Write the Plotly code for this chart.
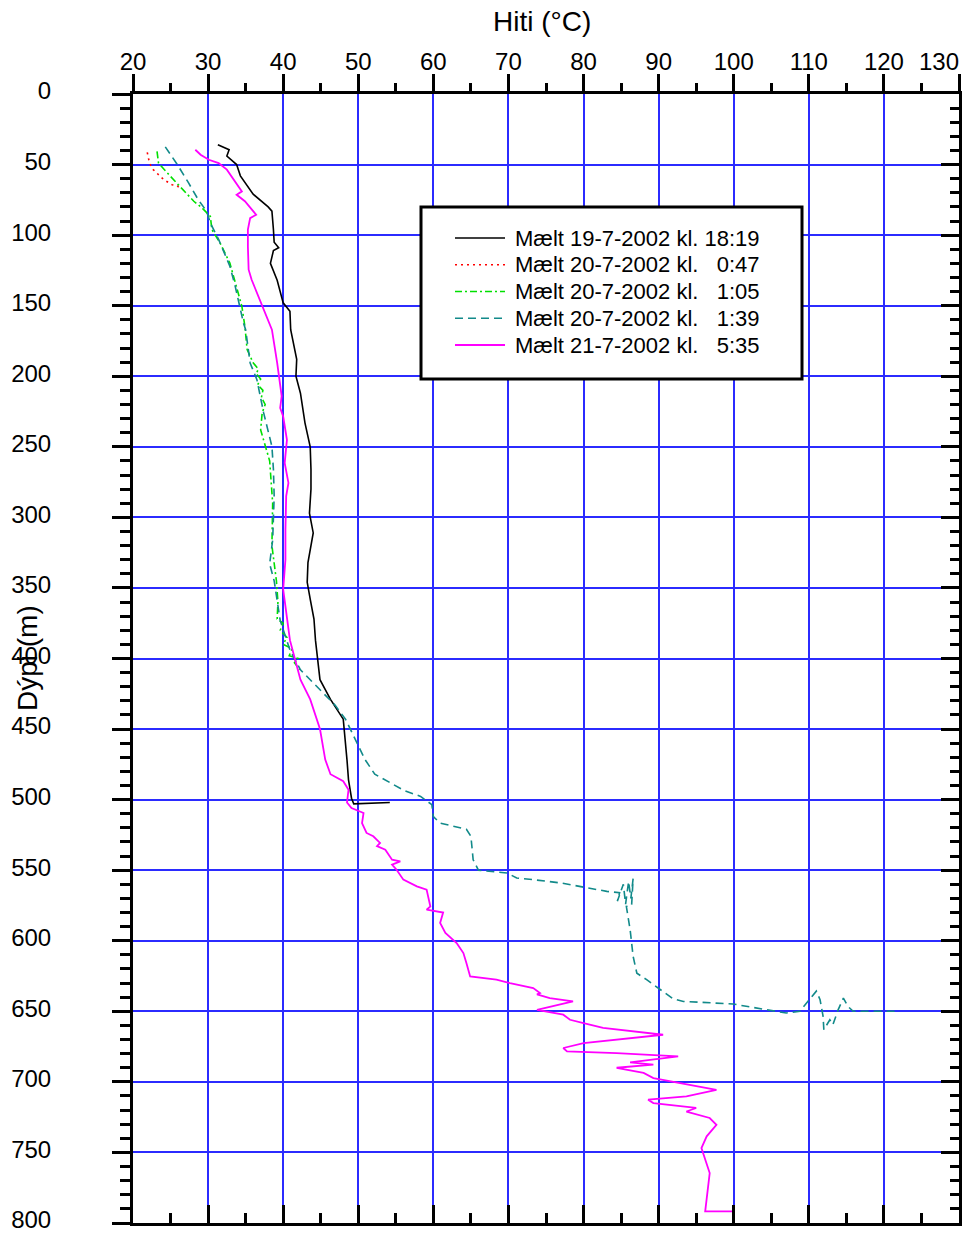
import plotly.graph_objects as go

# ---------------- data ----------------
black_T = [31.3, 32.8, 32.5, 33.8, 34.3, 36.0, 38.0, 38.5, 38.7, 38.8, 39.4, 38.7, 38.3, 39.2, 40.0, 40.9,
           41.0, 41.8, 41.7, 42.3, 42.9, 43.6, 43.7, 43.7, 43.5, 44.0, 43.3, 43.2, 43.6, 44.1, 44.3, 44.9,
           46.3, 48.0, 48.5, 48.7, 49.1, 49.4, 54.2]
black_D = [36, 39.5, 44, 50, 58, 71, 80, 83, 96, 105, 109, 111, 120, 132, 148, 154,
           167, 188, 200, 212, 233, 250, 266, 280, 297, 311, 332, 346, 358, 372, 387, 415,
           429, 443, 472, 486, 499, 503, 502]

red_T = [21.9, 22.2, 22.7, 24.1, 25.2, 25.9, 26.3]
red_D = [41.4, 49, 53.6, 60.7, 64.3, 65, 67.3]

green_T = [23.2, 23.4, 25.0, 26.7, 28.1, 29.2, 30.3, 30.5, 31.6, 32.9, 33.8, 34.5, 34.9, 35.2, 36.0,
           36.7, 36.4, 37.0, 36.6, 37.3, 37.1, 37.6, 37.2, 37.0, 38.2, 38.6, 38.5, 38.9, 39.1, 39.3,
           39.2, 40.0, 39.6, 40.5, 40.0, 41.2, 40.8, 42.0, 41.5, 42.2]
green_D = [40.7, 49, 58.4, 67.8, 76, 80.8, 86.7, 96, 105.6, 119.8, 136.3, 150.5, 164.7, 181, 190.5,
           195, 198, 202, 206, 210, 215, 220, 226, 238, 260, 290, 320, 335, 345, 360,
           372, 375, 380, 385, 390, 393, 398, 400, 403, 408]

teal_T = [24.3, 25.9, 27.4, 28.7, 29.8, 30.3, 31.4, 32.9, 33.6, 34.3, 34.7, 35.0, 35.6, 36.5, 37.4,
          38.5, 38.7, 38.8, 38.7, 38.6, 38.2, 38.8, 39.6, 40.9, 42.3, 44.9, 46.9, 48.3, 49.6, 50.9,
          52.2, 56.1, 58.3, 59.8, 60.0, 60.9, 64.4, 65.0, 65.3, 66.0, 69.8, 71.1, 73.3, 76.9, 80.0,
          83.1, 84.8, 84.5, 85.3, 85.6, 86.0, 86.3, 86.6, 86.4, 85.7, 86.2, 86.6, 87.1, 88.4, 90.2,
          91.9, 93.3, 99.9, 104.4, 107.0, 108.8, 109.7, 111.0, 111.5, 111.9, 112.0, 112.8, 113.2, 113.9,
          114.6, 115.2, 115.9, 122.1]
teal_D = [37.5, 50, 63, 75, 83, 91.4, 103, 122, 136, 153, 162, 167, 190.6, 202.4, 226,
          249.7, 266, 285, 308.8, 316, 333, 345, 373, 394, 408, 422, 433, 443, 457.5, 471.6,
          482, 493.5, 497.7, 503.6, 512, 516.6, 521, 526, 542.6, 550, 552, 555.5, 556.7, 559, 562,
          565, 566, 572, 560, 574, 558, 570, 556, 575, 575.7, 592, 611, 623, 627.6, 634.7,
          641, 643, 644.8, 648.9, 651.2, 650, 644, 635.7, 641.8, 653.6, 663, 656, 659.5, 649,
          640.6, 646.5, 650, 650]

pink_T = [28.3, 29.0, 30.1, 31.4, 32.5, 33.4, 34.3, 34.5, 33.8, 34.9, 36.0, 36.4, 35.6, 35.3, 35.3,
          35.4, 35.8, 36.5, 37.2, 37.8, 38.5, 39.2, 39.8, 39.6, 40.0, 40.5, 40.2, 40.7, 40.4, 40.3,
          40.3, 40.0, 40.9, 42.3, 43.6, 44.9, 45.6, 46.3, 48.0, 48.7, 48.5, 49.1, 50.7, 50.5, 51.1,
          52.0, 52.9, 52.5, 53.6, 54.5, 55.6, 54.5, 55.1, 56.0, 57.8, 59.1, 59.6, 59.1, 61.3, 60.9,
          61.6, 63.1, 64.0, 64.4, 64.9, 68.4, 70.2, 73.3, 74.2, 73.8, 75.5, 78.6, 73.8, 77.3, 78.2,
          80.0, 82.6, 90.6, 80.0, 77.3, 77.8, 84.4, 92.6, 86.2, 89.3, 84.4, 88.0, 89.3, 92.2, 97.7,
          93.7, 88.6, 89.3, 93.3, 95.0, 93.7, 96.8, 97.7, 96.4, 95.7, 96.2, 96.8, 96.2, 99.9]
pink_D = [39.5, 43, 46.6, 49, 53.6, 60.7, 67.8, 69, 71.4, 76, 83, 85.5, 88, 96, 108,
          124.5, 131.6, 141, 150.5, 157.6, 167, 190.6, 214, 222.5, 228.5, 245, 261.5, 275.6, 285, 308.8,
          330, 351, 387, 415, 429, 450, 471.6, 482, 487, 493, 502, 506, 509.5, 516.6, 523.6,
          526, 530.7, 533, 535.5, 542.6, 543.8, 546, 549.7, 556.7, 561.5, 563.8, 575.7, 578, 580, 587.4,
          594.5, 601.6, 608.7, 615.8, 625.3, 627.6, 630, 633.5, 637, 638, 640.6, 643, 649, 652.4, 656,
          658.3, 661.8, 666.6, 672.5, 676, 678.4, 679.6, 682, 686.2, 687.8, 690, 693.7, 697.3, 700, 705.6,
          710.3, 712.6, 715, 717.4, 718.5, 721, 725.6, 730.4, 738.6, 746.9, 755, 764.6, 791.8, 791.8]

series_names = [
    "Mælt 19-7-2002 kl.\u00a018:19",
    "Mælt 20-7-2002 kl.\u00a0\u00a0\u00a00:47",
    "Mælt 20-7-2002 kl.\u00a0\u00a0\u00a01:05",
    "Mælt 20-7-2002 kl.\u00a0\u00a0\u00a01:39",
    "Mælt 21-7-2002 kl.\u00a0\u00a0\u00a05:35",
]
x_ticks = list(range(20, 131, 10))
y_ticks = list(range(0, 801, 50))

# ---------------- figure ----------------
FONT = "Liberation Sans, Arial, sans-serif"
GRID = "#2b2bff"

# plot area in page pixels: x 133..959, y 94..1223 (body margin removed below)
W, H = 975, 1235
L, T, R, B = 133, 94, 16, 12
PW, PH = W - L - R, H - T - B


def px(xp):   # page pixel x -> paper x
    return (xp - L) / PW


def py(yp):   # page pixel y -> paper y
    return 1 - (yp - T) / PH


fig = go.Figure()
styles = [
    (black_T, black_D, "#000000", "solid", 1.6),
    (red_T, red_D, "#ff0000", "2px,4px", 1.6),
    (green_T, green_D, "#00e000", "7px,3px,2px,3px", 1.6),
    (teal_T, teal_D, "#128a8a", "8px,5px", 1.6),
    (pink_T, pink_D, "#ff00ff", "solid", 1.8),
]
n = len(styles)
for i, ((t, d, c, dash, w), name) in enumerate(zip(styles, series_names)):
    last = (i == n - 1)   # last series sits on the overlaid (bottom/right) axis pair
    fig.add_trace(go.Scatter(x=t, y=d, mode="lines", name=name, showlegend=False,
                             xaxis="x2" if last else "x", yaxis="y2" if last else "y",
                             line=dict(color=c, width=w, dash=dash)))

# legend box, drawn as a framed panel with sample lines and labels
shapes = [dict(type="rect", xref="paper", yref="paper", x0=px(421), x1=px(802),
               y0=py(379), y1=py(207), fillcolor="white", line=dict(color="black", width=3),
               layer="above")]
annotations = []
for i, ((t, d, c, dash, w), name) in enumerate(zip(styles, series_names)):
    yy = py(238 + i * 26.75)
    shapes.append(dict(type="line", xref="paper", yref="paper", x0=px(455), x1=px(505),
                       y0=yy, y1=yy, line=dict(color=c, width=w, dash=dash), layer="above"))
    annotations.append(dict(text=name, xref="paper", yref="paper", x=px(513), y=yy,
                            xanchor="left", yanchor="middle", showarrow=False,
                            font=dict(size=22)))

# top tick labels: the last one sits right-aligned on its tick, as in the reference
x_ticktext = [str(v) for v in x_ticks[:-1]] + [""]
annotations.append(dict(text=str(x_ticks[-1]), xref="paper", yref="paper", x=px(961), y=py(61.5),
                        xanchor="right", yanchor="middle", showarrow=False,
                        font=dict(size=24)))

annotations += [
    dict(text="Hiti (°C)", xref="paper", yref="paper", x=px(542), y=py(22),
         xanchor="center", yanchor="middle", showarrow=False, font=dict(size=28)),
    dict(text="Dýpi (m)", xref="paper", yref="paper", x=px(27), y=py(658),
         xanchor="center", yanchor="middle", textangle=-90, showarrow=False,
         font=dict(size=28)),
]

axis_common = dict(showline=True, linecolor="black", linewidth=3, zeroline=False,
                   tickcolor="black", tickwidth=3, automargin=False)

fig.update_layout(
    width=W, height=H,
    margin=dict(l=L, r=R, t=T, b=B, autoexpand=False),
    paper_bgcolor="white", plot_bgcolor="white",
    font=dict(family=FONT, color="black"),
    showlegend=False,
    xaxis=dict(range=[20, 130], side="top", tickvals=x_ticks, ticktext=x_ticktext,
               ticks="outside", ticklen=17, ticklabelstandoff=-6,
               tickfont=dict(size=24), ticklabeloverflow="allow",
               showgrid=True, gridcolor=GRID, gridwidth=2,
               minor=dict(dtick=5, tick0=20, ticks="outside", ticklen=8, tickwidth=3,
                          tickcolor="black", showgrid=False),
               **axis_common),
    yaxis=dict(range=[800, 0], tickvals=y_ticks, ticks="outside", ticklen=18,
               tickfont=dict(size=24), ticklabelstandoff=56, ticklabelshift=3,
               ticklabeloverflow="allow",
               showgrid=True, gridcolor=GRID, gridwidth=2,
               minor=dict(dtick=10, tick0=0, ticks="outside", ticklen=10, tickwidth=3,
                          tickcolor="black", showgrid=False),
               **axis_common),
    xaxis2=dict(range=[20, 130], overlaying="x", anchor="y2", side="bottom", tickvals=x_ticks,
                ticks="inside", ticklen=18, showticklabels=False, showgrid=False,
                minor=dict(dtick=5, tick0=20, ticks="inside", ticklen=10, tickwidth=3,
                           tickcolor="black", showgrid=False),
                **axis_common),
    yaxis2=dict(range=[800, 0], overlaying="y", anchor="x2", side="right", tickvals=y_ticks,
                ticks="inside", ticklen=18, showticklabels=False, showgrid=False,
                minor=dict(dtick=10, tick0=0, ticks="inside", ticklen=9, tickwidth=3,
                           tickcolor="black", showgrid=False),
                **axis_common),
    shapes=shapes,
    annotations=annotations,
)

fig.write_html("out.html", config={"displayModeBar": False},
               post_script="document.body.style.margin='0px';document.body.style.overflow='hidden';")
